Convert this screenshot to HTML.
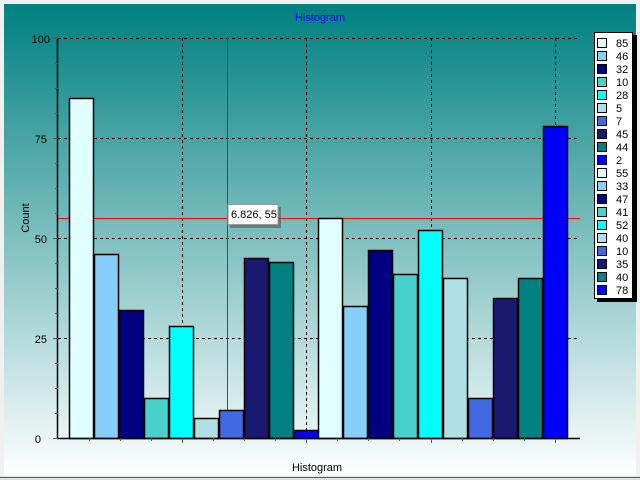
<!DOCTYPE html>
<html><head><meta charset="utf-8"><style>
html,body{margin:0;padding:0;background:#f0f0f0;}
svg{display:block;font-family:"Liberation Sans",sans-serif;}
</style></head><body>
<svg width="640" height="480" viewBox="0 0 640 480" xmlns="http://www.w3.org/2000/svg">
<defs>
<linearGradient id="bg" x1="0" y1="0" x2="0" y2="1">
<stop offset="0" stop-color="#008080"/>
<stop offset="1" stop-color="#ffffff"/>
</linearGradient>
</defs>
<rect x="0" y="0" width="640" height="480" fill="#f0f0f0"/>
<rect x="4" y="4" width="632" height="472" fill="url(#bg)"/>
<rect x="0" y="476" width="640" height="4" fill="#e0e0e0"/>
<line x1="0" y1="477.5" x2="640" y2="477.5" stroke="#606060"/>
<text x="320" y="21" font-size="11" fill="#0000ff" text-anchor="middle">Histogram</text>
<text x="317" y="471" font-size="11" fill="#000" text-anchor="middle">Histogram</text>
<text transform="translate(29,218) rotate(-90)" font-size="11" fill="#000" text-anchor="middle">Count</text>
<g stroke="#000" stroke-dasharray="3,3" stroke-width="1">
<line x1="58" y1="38.5" x2="580" y2="38.5"/>
<line x1="58" y1="138.5" x2="580" y2="138.5"/>
<line x1="58" y1="238.5" x2="580" y2="238.5"/>
<line x1="58" y1="338.5" x2="580" y2="338.5"/>
<line x1="182.5" y1="38" x2="182.5" y2="438"/>
<line x1="306.5" y1="38" x2="306.5" y2="438"/>
<line x1="431.5" y1="38" x2="431.5" y2="438"/>
<line x1="555.5" y1="38" x2="555.5" y2="438"/>
</g>
<line x1="58" y1="218.5" x2="580" y2="218.5" stroke="#ff0000"/>
<line x1="227.5" y1="38" x2="227.5" y2="218" stroke="#ff0000"/>
<line x1="227.5" y1="218" x2="227.5" y2="438" stroke="#2a5a5a"/>
<g stroke="#000" stroke-width="1.5">
<rect x="69.5" y="98.5" width="24" height="340" fill="#e0ffff"/>
<rect x="94.5" y="254.5" width="24" height="184" fill="#87cefa"/>
<rect x="119.5" y="310.5" width="24" height="128" fill="#000080"/>
<rect x="144.5" y="398.5" width="24" height="40" fill="#48d1cc"/>
<rect x="169.5" y="326.5" width="24" height="112" fill="#00ffff"/>
<rect x="194.5" y="418.5" width="24" height="20" fill="#b0e0e6"/>
<rect x="219.5" y="410.5" width="24" height="28" fill="#4169e1"/>
<rect x="244.5" y="258.5" width="24" height="180" fill="#191970"/>
<rect x="269.5" y="262.5" width="24" height="176" fill="#008080"/>
<rect x="294.5" y="430.5" width="24" height="8" fill="#0000ff"/>
<rect x="318.5" y="218.5" width="24" height="220" fill="#e0ffff"/>
<rect x="343.5" y="306.5" width="24" height="132" fill="#87cefa"/>
<rect x="368.5" y="250.5" width="24" height="188" fill="#000080"/>
<rect x="393.5" y="274.5" width="24" height="164" fill="#48d1cc"/>
<rect x="418.5" y="230.5" width="24" height="208" fill="#00ffff"/>
<rect x="443.5" y="278.5" width="24" height="160" fill="#b0e0e6"/>
<rect x="468.5" y="398.5" width="24" height="40" fill="#4169e1"/>
<rect x="493.5" y="298.5" width="24" height="140" fill="#191970"/>
<rect x="518.5" y="278.5" width="24" height="160" fill="#008080"/>
<rect x="543.5" y="126.5" width="24" height="312" fill="#0000ff"/>
</g>
<line x1="57.5" y1="38" x2="57.5" y2="439" stroke="#000" stroke-width="1.5"/>
<line x1="57" y1="438.5" x2="580" y2="438.5" stroke="#000" stroke-width="1.5"/>
<g stroke="#555">
<line x1="53" y1="38.5" x2="58" y2="38.5"/><line x1="53" y1="138.5" x2="58" y2="138.5"/>
<line x1="53" y1="238.5" x2="58" y2="238.5"/><line x1="53" y1="338.5" x2="58" y2="338.5"/>
<line x1="53" y1="438.5" x2="58" y2="438.5"/>
<line x1="55" y1="63.5" x2="58" y2="63.5"/><line x1="55" y1="88.5" x2="58" y2="88.5"/><line x1="55" y1="113.5" x2="58" y2="113.5"/>
<line x1="55" y1="163.5" x2="58" y2="163.5"/><line x1="55" y1="188.5" x2="58" y2="188.5"/><line x1="55" y1="213.5" x2="58" y2="213.5"/>
<line x1="55" y1="263.5" x2="58" y2="263.5"/><line x1="55" y1="288.5" x2="58" y2="288.5"/><line x1="55" y1="313.5" x2="58" y2="313.5"/>
<line x1="55" y1="363.5" x2="58" y2="363.5"/><line x1="55" y1="388.5" x2="58" y2="388.5"/><line x1="55" y1="413.5" x2="58" y2="413.5"/>
<line x1="182.5" y1="438" x2="182.5" y2="443"/><line x1="306.5" y1="438" x2="306.5" y2="443"/>
<line x1="431.5" y1="438" x2="431.5" y2="443"/><line x1="555.5" y1="438" x2="555.5" y2="443"/>
<line x1="89.5" y1="438" x2="89.5" y2="441"/><line x1="120.5" y1="438" x2="120.5" y2="441"/><line x1="151.5" y1="438" x2="151.5" y2="441"/>
<line x1="213.5" y1="438" x2="213.5" y2="441"/><line x1="244.5" y1="438" x2="244.5" y2="441"/><line x1="275.5" y1="438" x2="275.5" y2="441"/>
<line x1="337.5" y1="438" x2="337.5" y2="441"/><line x1="368.5" y1="438" x2="368.5" y2="441"/><line x1="399.5" y1="438" x2="399.5" y2="441"/>
<line x1="462.5" y1="438" x2="462.5" y2="441"/><line x1="493.5" y1="438" x2="493.5" y2="441"/><line x1="524.5" y1="438" x2="524.5" y2="441"/>
</g>
<g font-size="11" fill="#000" text-anchor="end">
<text x="50" y="43">100</text><text x="47" y="143">75</text><text x="47" y="243">50</text>
<text x="47" y="343">25</text><text x="41" y="443">0</text>
</g>
<rect x="230" y="207" width="51" height="21" fill="#404040" opacity="0.5"/>
<rect x="228" y="204.5" width="50" height="20" fill="#fff" stroke="#999"/>
<text x="231" y="218" font-size="11" fill="#000">6.826, 55</text>
<rect x="597" y="35" width="40" height="267" fill="#000"/>
<rect x="594.5" y="32.5" width="38" height="266" fill="#fff" stroke="#000"/>
<g stroke="#000" stroke-width="1">
<rect x="597.5" y="38.5" width="9" height="9" fill="#e0ffff"/>
<rect x="597.5" y="51.5" width="9" height="9" fill="#87cefa"/>
<rect x="597.5" y="64.5" width="9" height="9" fill="#000080"/>
<rect x="597.5" y="77.5" width="9" height="9" fill="#48d1cc"/>
<rect x="597.5" y="90.5" width="9" height="9" fill="#00ffff"/>
<rect x="597.5" y="103.5" width="9" height="9" fill="#b0e0e6"/>
<rect x="597.5" y="116.5" width="9" height="9" fill="#4169e1"/>
<rect x="597.5" y="129.5" width="9" height="9" fill="#191970"/>
<rect x="597.5" y="142.5" width="9" height="9" fill="#008080"/>
<rect x="597.5" y="155.5" width="9" height="9" fill="#0000ff"/>
<rect x="597.5" y="168.5" width="9" height="9" fill="#e0ffff"/>
<rect x="597.5" y="181.5" width="9" height="9" fill="#87cefa"/>
<rect x="597.5" y="194.5" width="9" height="9" fill="#000080"/>
<rect x="597.5" y="207.5" width="9" height="9" fill="#48d1cc"/>
<rect x="597.5" y="220.5" width="9" height="9" fill="#00ffff"/>
<rect x="597.5" y="233.5" width="9" height="9" fill="#b0e0e6"/>
<rect x="597.5" y="246.5" width="9" height="9" fill="#4169e1"/>
<rect x="597.5" y="259.5" width="9" height="9" fill="#191970"/>
<rect x="597.5" y="272.5" width="9" height="9" fill="#008080"/>
<rect x="597.5" y="285.5" width="9" height="9" fill="#0000ff"/>
</g>
<g font-size="11" fill="#000">
<text x="616" y="47">85</text><text x="616" y="60">46</text><text x="616" y="73">32</text>
<text x="616" y="86">10</text><text x="616" y="99">28</text><text x="616" y="112">5</text>
<text x="616" y="125">7</text><text x="616" y="138">45</text><text x="616" y="151">44</text>
<text x="616" y="164">2</text><text x="616" y="177">55</text><text x="616" y="190">33</text>
<text x="616" y="203">47</text><text x="616" y="216">41</text><text x="616" y="229">52</text>
<text x="616" y="242">40</text><text x="616" y="255">10</text><text x="616" y="268">35</text>
<text x="616" y="281">40</text><text x="616" y="294">78</text>
</g>
</svg>
</body></html>
